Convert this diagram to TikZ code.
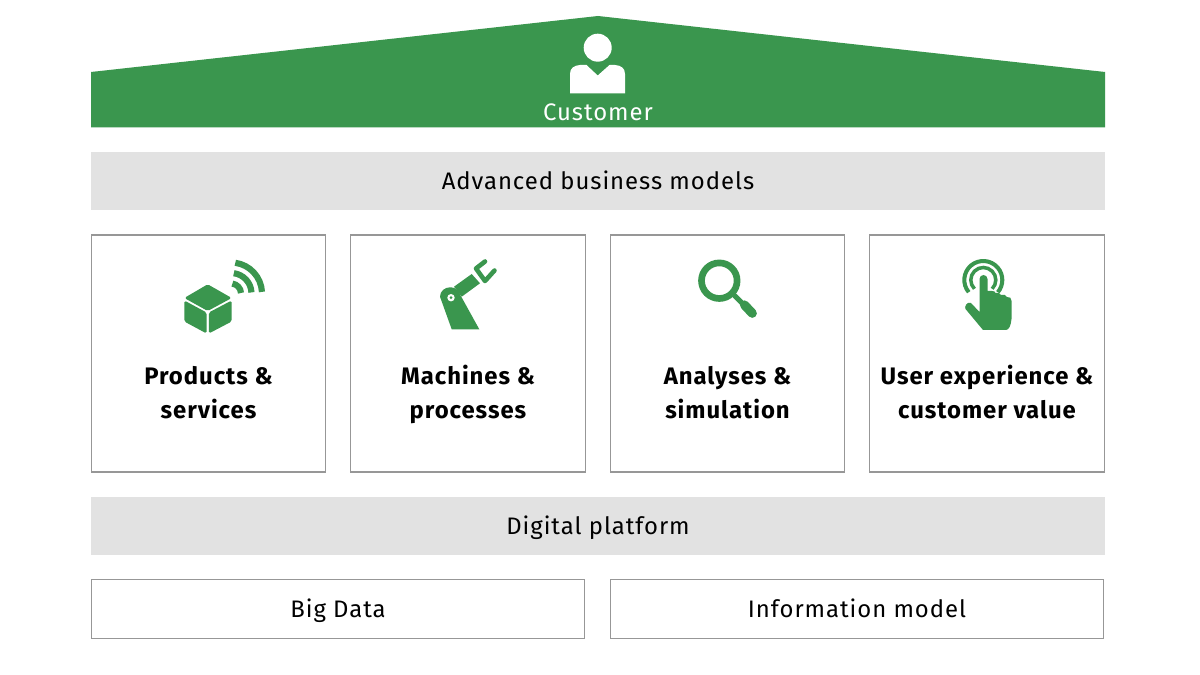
\documentclass[tikz,border=0pt]{standalone}
\usepackage{fontspec}
\setmainfont[LetterSpace=4]{Fira Sans}
\definecolor{roofgreen}{HTML}{3A964E}
\definecolor{bargrey}{HTML}{E2E2E2}
\definecolor{boxline}{HTML}{979797}
\tikzset{
  labeltext/.style={font=\fontsize{13.6}{16}\selectfont,text height=12.5pt,text depth=2.5pt},
  barbox/.style={labeltext,fill=bargrey,inner sep=0,outer sep=0,minimum height=1.16cm},
  platebox/.style={labeltext,draw=boxline,line width=0.6pt,inner sep=0,outer sep=0},
  pillarbox/.style={platebox,minimum width=4.69cm,minimum height=4.74cm},
  pillartext/.style={align=center,font=\fontsize{13.6}{19.4}\selectfont\bfseries},
  icon/.style={fill=roofgreen,draw=none},
  iconline/.style={draw=roofgreen,line cap=round}
}
\begin{document}
\begin{tikzpicture}[x=0.02cm,y=-0.02cm]
\useasboundingbox (0,0) rectangle (1200,675);
\fill[white] (0,0) rectangle (1200,675);

% roof
\fill[roofgreen] (91,72)--(598,16)--(1105,72)--(1105,127.5)--(91,127.5)--cycle;
\fill[white] (597.7,47.7) circle (14);
\fill[white] (570,93.5)--(570,74) .. controls (570,68) and (574,65.5) .. (580,65)--(586.5,65)--(597.7,75.5)--(609.5,65)--(615,65) .. controls (621,65.5) and (625,68) .. (625,74)--(625,93.5)--cycle;
\node[labeltext,text=white] (customer) at (598,111.5) {Customer};

% bars
\node[barbox,minimum width=20.28cm] (business) at (598,181) {Advanced business models};
\node[barbox,minimum width=20.28cm] (platform) at (598,526) {Digital platform};

% pillars
\node[pillarbox] (products) at (208.5,353.5) {};
\node[pillarbox] (machines) at (468,353.5) {};
\node[pillarbox] (analyses) at (727.5,353.5) {};
\node[pillarbox] (experience) at (987,353.5) {};
\node[pillartext] (productstext) at (208.5,395) {\strut Products \&\\\strut services};
\node[pillartext] (machinestext) at (468,395) {\strut Machines \&\\\strut processes};
\node[pillartext] (analysestext) at (727.5,395) {\strut Analyses \&\\\strut simulation};
\node[pillartext] (experiencetext) at (987,395) {\strut User experience \&\\\strut customer value};

% bottom
\node[platebox,minimum width=9.88cm,minimum height=1.17cm] (bigdata) at (338,609) {Big Data};
\node[platebox,minimum width=9.88cm,minimum height=1.17cm] (infomodel) at (857,609) {Information model};

% cube and waves
\fill[icon,rounded corners=1] (207.7,284.3)--(231.7,298)--(207.7,311)--(184.3,298)--cycle;
\fill[icon,rounded corners=1] (184.3,300.5)--(206.6,312.5)--(206.6,333.5)--(184.3,321.5)--cycle;
\fill[icon,rounded corners=1] (231.7,300.5)--(208.8,312.5)--(208.8,333.5)--(231.7,321.5)--cycle;
\foreach \r in {10,20.5,31}
  \draw[draw=roofgreen,line width=3.5pt] (231,293.5)++(-3:\r) arc[start angle=-3,end angle=-82,radius=\r];

% robot arm
\fill[icon] (440,296.7) .. controls (440,291) and (445,287.3) .. (450,287.3) .. controls (454,287.3) and (457,289) .. (458.5,291.7)--(479.3,329.3)--(451.7,329.3)--cycle;
\fill[white] (451,297.7) circle (3.7);
\fill[roofgreen] (451,297.7) circle (1.5);
\fill[icon] (454,286.7)--(471.7,274)--(480,283.3)--(461.7,296.7)--cycle;
\draw[iconline,line width=2.6pt,line join=round] (485,261.5)--(476,268.5)--(485,281)--(494.5,270.5);

% magnifier
\draw[draw=roofgreen,line width=3.8pt] (719.3,280.7) circle (17.8);
\draw[iconline,line width=3pt] (735,296)--(744,305);
\draw[iconline,line width=5.2pt] (744.5,305)--(752.3,313.3);

% touch hand
\draw[draw=roofgreen,line width=2.3pt] (983.3,280)++(140:19) arc[start angle=140,end angle=400,radius=19];
\draw[draw=roofgreen,line width=2pt] (983.3,280)++(135:12.5) arc[start angle=135,end angle=405,radius=12.5];
\fill[icon] (979.5,279) arc[start angle=180,end angle=360,radius=4]--(987.5,291)--(992,291) .. controls (994,290.5) and (995,292) .. (995.5,293) .. controls (998,292) and (1000,293) .. (1001,295) .. controls (1004,294) and (1006,295) .. (1007,297) .. controls (1010,296.5) and (1011.5,298) .. (1011.5,301)--(1011.5,319) .. controls (1011,325) and (1009,330) .. (1006,330)--(983,330)--(965.5,309) .. controls (964,307) and (967,301) .. (971,303)--(979.5,312)--cycle;
\end{tikzpicture}
\end{document}
